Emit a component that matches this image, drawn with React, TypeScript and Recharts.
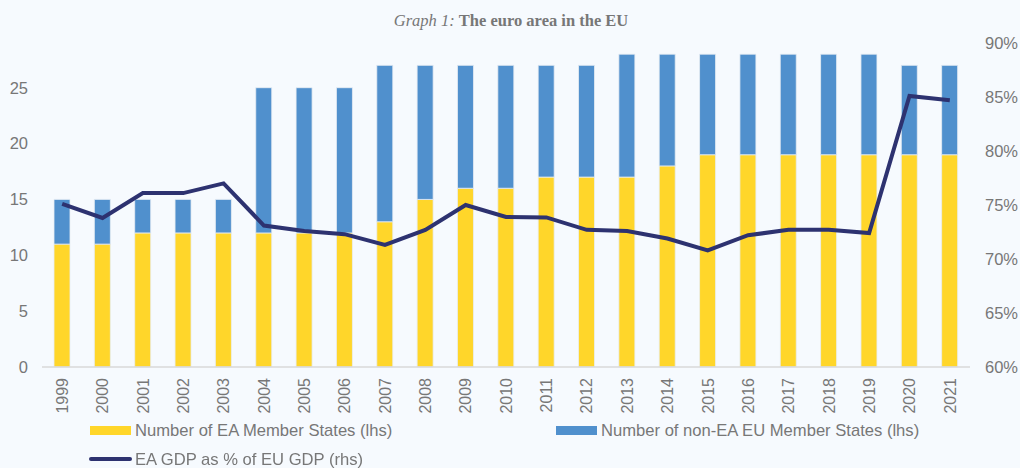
import React from "react";
import { ComposedChart, Bar, Line, XAxis, YAxis } from "recharts";

const years = [
  "1999", "2000", "2001", "2002", "2003", "2004", "2005", "2006", "2007", "2008", "2009", "2010",
  "2011", "2012", "2013", "2014", "2015", "2016", "2017", "2018", "2019", "2020", "2021",
];
const eaMembers = [11, 11, 12, 12, 12, 12, 12, 12, 13, 15, 16, 16, 17, 17, 17, 18, 19, 19, 19, 19, 19, 19, 19];
const nonEaMembers = [4, 4, 3, 3, 3, 13, 13, 13, 14, 12, 11, 11, 10, 10, 11, 10, 9, 9, 9, 9, 9, 8, 8];
const eaGdpShare = [
  75.1, 73.8, 76.1, 76.1, 77.0, 73.1, 72.6, 72.3, 71.3, 72.7, 75.0, 73.9,
  73.85, 72.7, 72.6, 71.9, 70.8, 72.2, 72.7, 72.7, 72.4, 85.1, 84.7,
];
const leftTicks = [0, 5, 10, 15, 20, 25];
const rightTicks = [60, 65, 70, 75, 80, 85, 90];

const data = years.map((year, i) => ({
  year,
  ea: eaMembers[i],
  nonEa: nonEaMembers[i],
  gdp: eaGdpShare[i],
}));

const BG = "#F6FAFE";
const YELLOW = "#FFD62A";
const BLUE = "#5090CD";
const NAVY = "#2D3270";
const GREY = "#777777";
const FONT = "'Liberation Sans', Arial, sans-serif";

const YearTick = (props: any) => {
  const { x, y, payload } = props;
  return (
    <text
      transform={`translate(${x},${y}) rotate(-90)`}
      textAnchor="end"
      dy="0.36em"
      fill={GREY}
      fontSize={16}
      fontFamily={FONT}
    >
      {payload.value}
    </text>
  );
};

export default function App() {
  return (
    <div style={{ position: "fixed", left: 0, top: 0, width: 1020, height: 468, background: BG, fontFamily: FONT }}>
      <div
        style={{
          position: "absolute",
          top: 11,
          left: 0,
          width: 1022,
          textAlign: "center",
          fontFamily: "'Liberation Serif', 'Times New Roman', serif",
          fontSize: 16.5,
          color: GREY,
        }}
      >
        <i>Graph 1:</i> <b>The euro area in the EU</b>
      </div>
      <ComposedChart
        width={1020}
        height={468}
        data={data}
        margin={{ top: 43, right: 0, left: 0, bottom: 0 }}
        barCategoryGap={0}
      >
        <XAxis
          dataKey="year"
          interval={0}
          height={101}
          tick={<YearTick />}
          tickLine={false}
          tickSize={0}
          tickMargin={11}
          axisLine={{ stroke: "#D9D9D9", strokeWidth: 1.5 }}
        />
        <YAxis
          yAxisId="left"
          domain={[0, 29]}
          ticks={leftTicks}
          width={42}
          axisLine={false}
          tickLine={false}
          tickSize={0}
          tickMargin={14}
          tick={{ fill: GREY, fontSize: 16.5, fontFamily: FONT }}
        />
        <YAxis
          yAxisId="right"
          orientation="right"
          domain={[60, 90]}
          ticks={rightTicks}
          width={50}
          axisLine={false}
          tickLine={false}
          tickSize={0}
          tickMargin={15}
          tickFormatter={(v) => `${v}%`}
          tick={{ fill: GREY, fontSize: 16.5, fontFamily: FONT }}
        />
        <Bar yAxisId="left" dataKey="ea" stackId="m" fill={YELLOW} stroke="#E8EEF4" strokeWidth={0.8} barSize={16} isAnimationActive={false} />
        <Bar yAxisId="left" dataKey="nonEa" stackId="m" fill={BLUE} stroke="#E8EEF4" strokeWidth={0.8} barSize={16} isAnimationActive={false} />
        <Line
          yAxisId="right"
          dataKey="gdp"
          type="linear"
          stroke={NAVY}
          strokeWidth={4}
          dot={false}
          activeDot={false}
          isAnimationActive={false}
        />
      </ComposedChart>
      <div style={{ position: "absolute", left: 90, top: 426, width: 41, height: 9, background: YELLOW }} />
      <div style={{ position: "absolute", left: 135, top: 421, fontSize: 16.6, color: GREY, lineHeight: "20px" }}>
        Number of EA Member States (lhs)
      </div>
      <div style={{ position: "absolute", left: 556, top: 426, width: 41, height: 9, background: BLUE }} />
      <div style={{ position: "absolute", left: 601, top: 421, fontSize: 16.6, color: GREY, lineHeight: "20px" }}>
        Number of non-EA EU Member States (lhs)
      </div>
      <div style={{ position: "absolute", left: 89, top: 457, width: 43, height: 4, borderRadius: 2, background: NAVY }} />
      <div style={{ position: "absolute", left: 135, top: 450, fontSize: 16.6, color: GREY, lineHeight: "20px" }}>
        EA GDP as % of EU GDP (rhs)
      </div>
    </div>
  );
}
